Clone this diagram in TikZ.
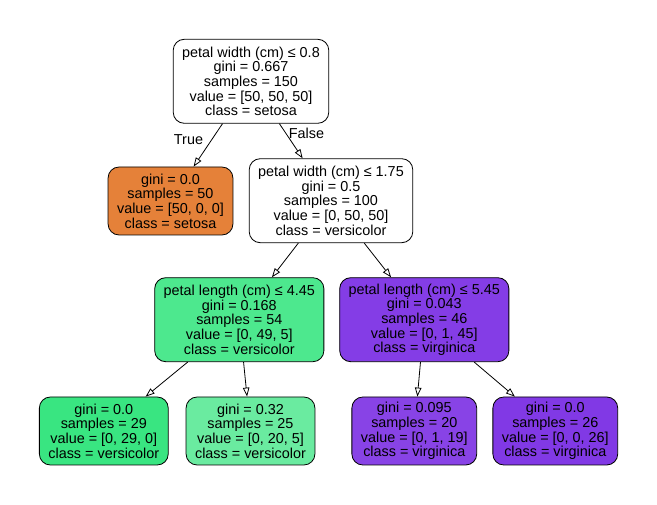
\documentclass[tikz,border=0pt]{standalone}
\usepackage{fontspec}
\setmainfont{Liberation Sans}
\usepackage{xcolor}
\usepackage{tikz}
\usetikzlibrary{arrows.meta}
\definecolor{setosa}{HTML}{E58139}
\definecolor{versi}{HTML}{39E581}
\definecolor{versimix}{HTML}{4DE88E}
\definecolor{versilight}{HTML}{6AEBA0}
\definecolor{virgi}{HTML}{8139E5}
\definecolor{virgimix}{HTML}{843DE6}
\definecolor{virgilight}{HTML}{8843E6}
\tikzset{
  box/.style={draw=black, line width=0.8pt, rounded corners=11pt, align=center,
    inner xsep=9pt, inner ysep=2pt, font=\fontsize{14.4}{14.7}\selectfont},
  split/.style={box, minimum height=84pt},
  leaf/.style={box, minimum height=68pt},
  edge/.style={draw=black, line width=0.8pt, -{Triangle[open, length=9pt, width=6.5pt]}},
  lab/.style={font=\fontsize{14.4}{14.7}\selectfont, inner sep=0pt},
}
\begin{document}
\begin{tikzpicture}[x=1pt, y=-1pt]
  \useasboundingbox[fill=white] (0,0) rectangle (657,505);
  % splits
  \node[split, fill=white] (root) at (251,81.3)
    {petal width (cm) ≤ 0.8\\gini = 0.667\\samples = 150\\value = [50, 50, 50]\\class = setosa};
  \node[split, fill=white] (wide) at (331,200.7)
    {petal width (cm) ≤ 1.75\\gini = 0.5\\samples = 100\\value = [0, 50, 50]\\class = versicolor};
  \node[split, fill=versimix] (shortlen) at (239.3,319.7)
    {petal length (cm) ≤ 4.45\\gini = 0.168\\samples = 54\\value = [0, 49, 5]\\class = versicolor};
  \node[split, fill=virgimix] (longlen) at (424.3,319.7)
    {petal length (cm) ≤ 5.45\\gini = 0.043\\samples = 46\\value = [0, 1, 45]\\class = virginica};
  % leaves
  \node[leaf, fill=setosa] (lsetosa) at (170.5,201)
    {gini = 0.0\\samples = 50\\value = [50, 0, 0]\\class = setosa};
  \node[leaf, fill=versi] (lversi) at (103.8,431)
    {gini = 0.0\\samples = 29\\value = [0, 29, 0]\\class = versicolor};
  \node[leaf, fill=versilight] (lmixed) at (250.5,431)
    {gini = 0.32\\samples = 25\\value = [0, 20, 5]\\class = versicolor};
  \node[leaf, fill=virgilight] (lnear) at (414.3,431)
    {gini = 0.095\\samples = 20\\value = [0, 1, 19]\\class = virginica};
  \node[leaf, fill=virgi] (lvirgi) at (555.3,431)
    {gini = 0.0\\samples = 26\\value = [0, 0, 26]\\class = virginica};
  \foreach \a/\b in {root/lsetosa, root/wide, wide/shortlen, wide/longlen,
      shortlen/lversi, shortlen/lmixed, longlen/lnear, longlen/lvirgi}
    \draw[edge] (\a) -- (\b);
  \node[lab] (true) at (188.5,140) {True};
  \node[lab] (false) at (306.5,133.5) {False};
\end{tikzpicture}
\end{document}
